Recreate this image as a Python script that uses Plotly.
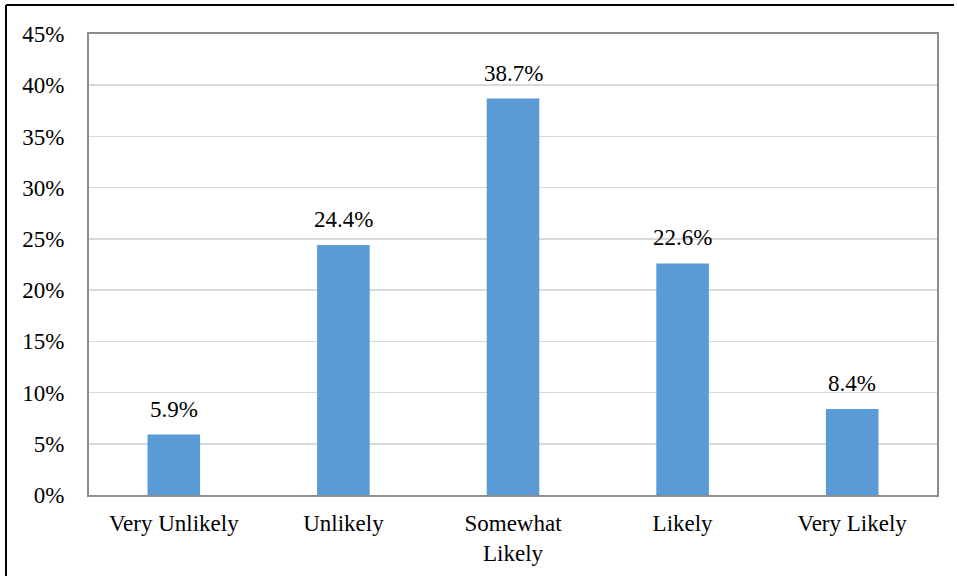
import plotly.graph_objects as go

categories = ["Very Unlikely", "Unlikely", "Somewhat<br>Likely", "Likely", "Very Likely"]
values = [5.9, 24.4, 38.7, 22.6, 8.4]
value_labels = ["5.9%", "24.4%", "38.7%", "22.6%", "8.4%"]
y_ticks = [0, 5, 10, 15, 20, 25, 30, 35, 40, 45]
y_tick_labels = ["0%", "5%", "10%", "15%", "20%", "25%", "30%", "35%", "40%", "45%"]

FONT = "Liberation Serif"
FS = 23
W, H = 957, 576
ML, MR, MT, MB = 89, 20, 34, 81
PW, PH = W - ML - MR, H - MT - MB

fig = go.Figure()
fig.add_trace(go.Bar(
    x=categories, y=values,
    marker=dict(color="#5B9BD5", line=dict(width=0)),
    width=0.31,
    hoverinfo="skip",
))

for c, v, t in zip(categories, values, value_labels):
    fig.add_annotation(x=c, y=v, text=t, showarrow=False, yanchor="bottom",
                       yshift=11, font=dict(family=FONT, size=FS, color="#000000"))

# outer frame (left and top edges visible); coordinates in window pixels
def px_x(p):
    return (p - ML) / PW
def px_y(p):
    return 1 - (p - MT) / PH

fig.add_shape(type="line", xref="paper", yref="paper",
              x0=px_x(6), x1=px_x(6), y0=px_y(5), y1=px_y(590),
              line=dict(color="#000000", width=2))
fig.add_shape(type="line", xref="paper", yref="paper",
              x0=px_x(6), x1=px_x(954), y0=px_y(5), y1=px_y(5),
              line=dict(color="#000000", width=2))

fig.update_layout(
    width=W, height=H,
    margin=dict(l=ML, r=MR, t=MT, b=MB, pad=0, autoexpand=False),
    paper_bgcolor="white", plot_bgcolor="white",
    showlegend=False,
    font=dict(family=FONT, size=FS, color="#000000"),
    xaxis=dict(
        showline=True, linecolor="#8C8C8C", linewidth=2, mirror=True,
        showgrid=False, ticks="outside", ticklen=6, tickcolor="rgba(0,0,0,0)",
        tickfont=dict(family=FONT, size=FS, color="#000000"),
        automargin=False,
    ),
    yaxis=dict(
        range=[0, 45], tickvals=y_ticks, ticktext=y_tick_labels,
        showline=True, linecolor="#8C8C8C", linewidth=2, mirror=True,
        showgrid=True, gridcolor="#D9D9D9", gridwidth=1.5,
        ticks="outside", ticklen=18, tickcolor="rgba(0,0,0,0)",
        tickfont=dict(family=FONT, size=FS, color="#000000"),
        zeroline=False, automargin=False,
    ),
)

fig.write_html("out.html", config={"displayModeBar": False, "staticPlot": True},
               post_script="document.body.style.margin='0';document.body.style.overflow='hidden';")
